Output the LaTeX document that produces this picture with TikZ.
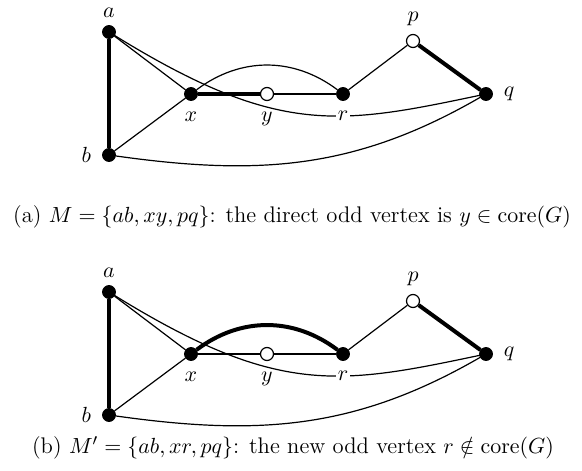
\documentclass[tikz,border=0pt]{standalone}
\usepackage{amsmath}
\usepackage{amssymb}
\usepackage{tikz}
\usetikzlibrary{positioning, calc}
\DeclareMathOperator{\core}{core}

\begin{document}
\begin{tikzpicture}[x=0.5pt, y=-0.5pt,
    every node/.append style={font=\fontsize{11.3}{13.6}\selectfont},
    every label/.append style={font=\fontsize{11.3}{13.6}\selectfont},
    vtx/.style={circle, draw, fill=black, inner sep=0pt, minimum size=6.5pt},
    ovtx/.style={circle, draw, fill=white, inner sep=0pt, minimum size=6.5pt, line width=0.6pt},
    edge/.style={line width=0.6pt},
    matched/.style={line width=2pt},
    label distance=2pt]
    \useasboundingbox (0,0) rectangle (582,470);

    % (a) the direct odd vertex
    \draw[edge] (109,32) .. controls (279,138) and (339,125) .. (486,94);
    \node[vtx, label={[label distance=0.5pt]above:$a$}] (a1) at (109,32) {};
    \node[vtx, label=left:$b$] (b1) at (109,155) {};
    \node[vtx, label=below:$x$] (x1) at (191,94) {};
    \node[ovtx, label=below:$y$] (y1) at (267,94) {};
    \node[vtx, label={[fill=white, inner sep=1pt, label distance=4pt]below:$r$}] (r1) at (343,94) {};
    \node[ovtx, label={[label distance=0.5pt]above:$p$}] (p1) at (413,41) {};
    \node[vtx, label=right:$q$] (q1) at (486,94) {};
    \draw[matched] (a1) -- (b1);
    \draw[edge] (a1) -- (x1);
    \draw[edge] (b1) -- (x1);
    \draw[matched] (x1) -- (y1);
    \draw[edge] (y1) -- (r1);
    \draw[edge] (x1) to[bend left=37] (r1);
    \draw[edge] (r1) -- (p1);
    \draw[matched] (p1) -- (q1);
    \draw[edge] (b1) to[out=-8, in=-150] (q1);
    \node (capa) at (292,217) {(a) $M=\{ab,xy,pq\}$: the direct odd vertex is $y\in\core(G)$};

    % (b) the new odd vertex
    \begin{scope}[yshift=-130pt]
    \draw[edge] (109,32) .. controls (279,138) and (339,125) .. (486,94);
    \node[vtx, label={[label distance=0.5pt]above:$a$}] (a2) at (109,32) {};
    \node[vtx, label=left:$b$] (b2) at (109,155) {};
    \node[vtx, label=below:$x$] (x2) at (191,94) {};
    \node[ovtx, label=below:$y$] (y2) at (267,94) {};
    \node[vtx, label={[fill=white, inner sep=1pt, label distance=4pt]below:$r$}] (r2) at (343,94) {};
    \node[ovtx, label={[label distance=0.5pt]above:$p$}] (p2) at (413,41) {};
    \node[vtx, label=right:$q$] (q2) at (486,94) {};
    \draw[matched] (a2) -- (b2);
    \draw[edge] (a2) -- (x2);
    \draw[edge] (b2) -- (x2);
    \draw[edge] (x2) -- (y2);
    \draw[edge] (y2) -- (r2);
    \draw[matched] (x2) to[bend left=37] (r2);
    \draw[edge] (r2) -- (p2);
    \draw[matched] (p2) -- (q2);
    \draw[edge] (b2) to[out=-8, in=-150] (q2);
    \end{scope}
    \node (capb) at (293,448) {(b) $M'=\{ab,xr,pq\}$: the new odd vertex $r\notin\core(G)$};
\end{tikzpicture}
\end{document}
